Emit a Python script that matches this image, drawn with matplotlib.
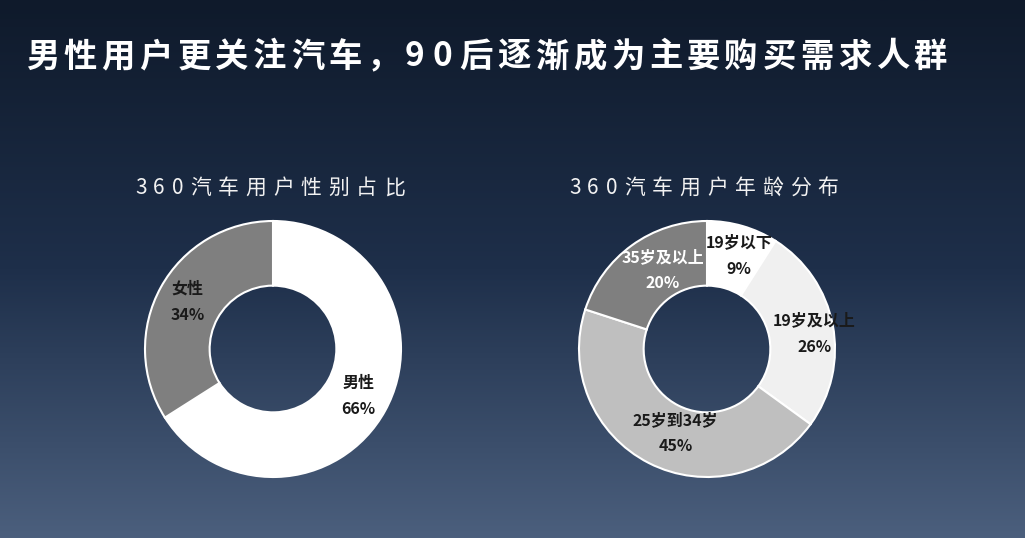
import numpy as np
import matplotlib
matplotlib.use('Agg')
import matplotlib.pyplot as plt
from matplotlib.colors import LinearSegmentedColormap

plt.rcParams['font.family'] = ['Noto Sans CJK SC', 'DejaVu Sans']

''' DATA '''

title = '男性用户更关注汽车，90后逐渐成为主要购买需求人群'

gender_title = '360汽车用户性别占比'
gender_labels = ['男性', '女性']
gender_values = [66, 34]
gender_colors = ['#ffffff', '#7f7f7f']
gender_text = ['#1a1a1a', '#1a1a1a']

age_title = '360汽车用户年龄分布'
age_labels = ['19岁以下', '19岁及以上', '25岁到34岁', '35岁及以上']
age_values = [9, 26, 45, 20]
age_colors = ['#ffffff', '#f0f0f0', '#bfbfbf', '#7f7f7f']
age_text = ['#1a1a1a', '#1a1a1a', '#1a1a1a', '#ffffff']

''' FIGURE '''

W, H = 1025, 538
fig = plt.figure(figsize=(W / 100, H / 100), dpi=100)

# background gradient
bg = fig.add_axes([0, 0, 1, 1])
cmap = LinearSegmentedColormap.from_list('bg', ['#0f1a2b', '#1e2f4a', '#4b5f7d'])
grad = np.linspace(0, 1, 256).reshape(-1, 1)
bg.imshow(grad, aspect='auto', cmap=cmap, extent=[0, 1, 0, 1], origin='upper')
bg.set_xlim(0, 1)
bg.set_ylim(0, 1)
bg.axis('off')


def spaced_text(x0, y, s, cjk_step, digit_step, **kw):
    # draw a string one character at a time (wide letter spacing)
    x = x0
    for ch in s:
        fig.text(x / W, 1 - y / H, ch, va='center', ha='left', **kw)
        x += digit_step if ch.isdigit() else cjk_step


spaced_text(26, 57, title, 37.85, 27.5, color='white', fontsize=24, fontweight='bold')
spaced_text(135, 188, gender_title, 27.7, 18.3, color='#f2f2f2', fontsize=15)
spaced_text(569, 188, age_title, 27.7, 18.3, color='#f2f2f2', fontsize=15)


def donut(cx, labels, values, colors, tcolors, nudge):
    r = 128
    ax = fig.add_axes([(cx - r) / W, 1 - (349 + r) / H, 2 * r / W, 2 * r / H])
    texts = [f'{l}\n{v}%' for l, v in zip(labels, values)]
    wedges, lbls = ax.pie(values, colors=colors, startangle=90, counterclock=False,
                          radius=1, labels=texts, labeldistance=0.76,
                          wedgeprops=dict(width=0.505, edgecolor='white', linewidth=1.5),
                          textprops=dict(fontsize=11.5, fontweight='bold',
                                         ha='center', va='center', linespacing=1.8))
    for t, c, (dx, dy) in zip(lbls, tcolors, nudge):
        t.set_color(c)
        x, y = t.get_position()
        t.set_position((x + dx, y + dy))
    ax.set_xlim(-1, 1)
    ax.set_ylim(-1, 1)
    ax.axis('off')


donut(273, gender_labels, gender_values, gender_colors, gender_text,
      [(0, 0), (0, 0)])
donut(707, age_labels, age_values, age_colors, age_text,
      [(0.04, 0.0), (0.09, -0.02), (0.1, 0.02), (0.1, 0.0)])

fig.savefig('out.png', dpi=100)
